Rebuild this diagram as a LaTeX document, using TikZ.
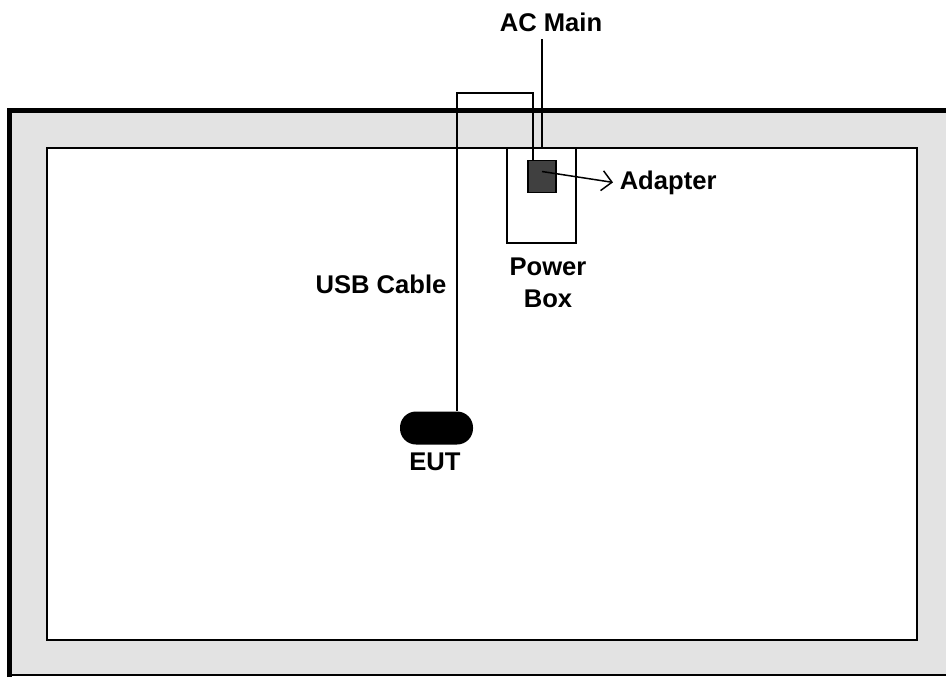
\documentclass[tikz,border=0pt]{standalone}
\usepackage{fontspec}
\setmainfont{Liberation Sans}
\usetikzlibrary{positioning, arrows.meta}
\begin{document}
\begin{tikzpicture}[x=0.5pt, y=-0.5pt, line width=0.75pt,
  lbl/.style={font=\bfseries\fontsize{12.8}{15.8}\selectfont}]
  \useasboundingbox (0,0) rectangle (946,677);
  % Sala
  \fill[black!11] (12,112) rectangle (946,675);
  \draw[line width=2.5pt] (9.5,677) |- (946,110.5);
  \draw (12,675) -- (946,675);
  \draw[fill=white] (47,148) rectangle (917,640);
  % Caja de alimentacion y adaptador
  \node[draw, minimum width=34.5pt, minimum height=47.5pt, inner sep=0] (pbox) at (541.5,195.5) {};
  \node[draw, fill=black!75, minimum width=14pt, minimum height=16pt, inner sep=0] (adapter) at (542,176.5) {};
  % EUT
  \node[fill=black, rounded corners=8pt, minimum width=36.5pt, minimum height=16.5pt, inner sep=0] (eut) at (436.5,428) {};
  % Etiquetas
  \node[lbl, anchor=base] (acmain) at (551,31.7) {AC Main};
  \node[lbl, anchor=base west, inner sep=3pt] (adlabel) at (613,189) {Adapter};
  \node[lbl, align=center, below=3.5pt of pbox, xshift=3.25pt] (pblabel) {Power\\Box};
  \node[lbl, anchor=base] (usblabel) at (381,293) {USB Cable};
  \node[lbl, anchor=base] (eutlabel) at (435,470) {EUT};
  % Cables
  \coordinate (loop) at (533,93);
  \draw ([xshift=10.25pt]eut.north) |- (loop) -- (loop |- adapter.north);
  \draw (adapter.center |- acmain.south) -- (adapter.center |- pbox.north);
  \draw[-{Straight Barb[length=5pt, width=10pt]}] ([yshift=2.5pt]adapter.center) -- (adlabel.west);
\end{tikzpicture}
\end{document}
